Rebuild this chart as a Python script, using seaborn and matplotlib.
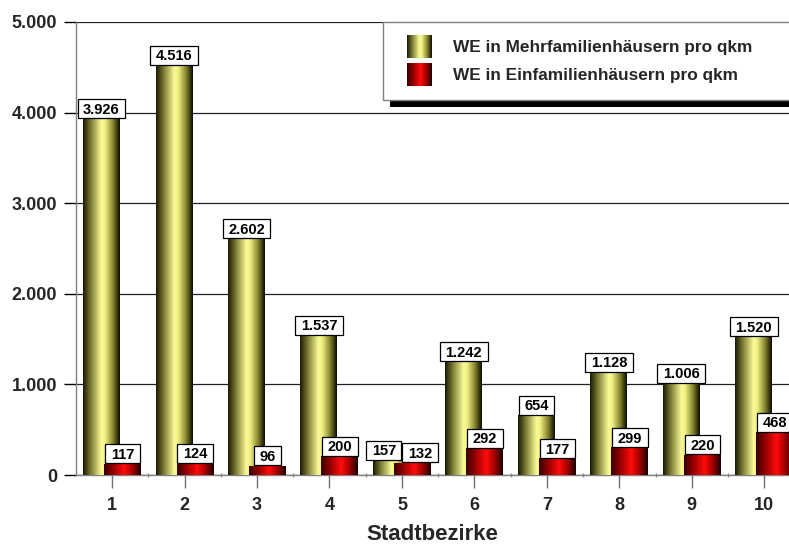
import numpy as np
import pandas as pd
import matplotlib
matplotlib.use("Agg")
import matplotlib.pyplot as plt
import seaborn as sns
from matplotlib.patches import Rectangle, Patch
from matplotlib.ticker import FuncFormatter, FixedLocator

# --- data -------------------------------------------------------------
bezirke = [1, 2, 3, 4, 5, 6, 7, 8, 9, 10]
mehrfamilien = [3926, 4516, 2602, 1537, 157, 1242, 654, 1128, 1006, 1520]
einfamilien = [117, 124, 96, 200, 132, 292, 177, 299, 220, 468]
serien = ["WE in Mehrfamilienhäusern pro qkm", "WE in Einfamilienhäusern pro qkm"]
y_ticks = [0, 1000, 2000, 3000, 4000, 5000]
x_titel = "Stadtbezirke"

# --- style ------------------------------------------------------------
sns.set_theme(style="white")
plt.rcParams["font.family"] = ["Liberation Sans", "DejaVu Sans"]

# cylinder shading: (position across bar, rgb)
stops_gelb = [(0.00, (25, 25, 5)), (0.20, (120, 120, 50)), (0.50, (250, 250, 150)),
              (0.60, (240, 240, 130)), (0.82, (130, 130, 45)), (1.00, (12, 12, 0))]
stops_rot = [(0.00, (55, 0, 0)), (0.25, (150, 0, 0)), (0.55, (255, 12, 12)),
             (0.75, (175, 0, 0)), (1.00, (30, 0, 0))]


def verlauf(stops, n=96):
    u = np.linspace(0, 1, n)
    pos = [s[0] for s in stops]
    rgb = np.array([s[1] for s in stops], dtype=float) / 255.0
    arr = np.stack([np.interp(u, pos, rgb[:, k]) for k in range(3)], axis=-1)
    return arr[np.newaxis, :, :]


grad_gelb = verlauf(stops_gelb)
grad_rot = verlauf(stops_rot)

W, H = 789, 545
fig = plt.figure(figsize=(W / 100, H / 100), dpi=100)
fig.patch.set_facecolor("white")


def px_rect(x0, y0, x1, y1):
    return [x0 / W, 1 - y1 / H, (x1 - x0) / W, (y1 - y0) / H]


ax = fig.add_axes(px_rect(76, 22, 789, 475))
ax.set_facecolor("white")

versatz = 0.145
breite = 0.51
df_m = pd.DataFrame({"pos": np.array(bezirke) - versatz, "wert": mehrfamilien})
df_e = pd.DataFrame({"pos": np.array(bezirke) + versatz, "wert": einfamilien})

sns.barplot(data=df_m, x="pos", y="wert", native_scale=True, width=breite,
            color="#e0e080", errorbar=None, ax=ax)
n_m = len(ax.patches)
sns.barplot(data=df_e, x="pos", y="wert", native_scale=True, width=breite,
            color="#d00000", errorbar=None, ax=ax)
balken_m = list(ax.patches[:n_m])
balken_e = list(ax.patches[n_m:])


def fmt(v):
    return f"{int(v):,}".replace(",", ".")


for gruppe, grad, z in ((balken_m, grad_gelb, 3), (balken_e, grad_rot, 4)):
    for p in gruppe:
        x, w, h = p.get_x(), p.get_width(), p.get_height()
        ax.imshow(grad, extent=[x, x + w, 0, h], aspect="auto",
                  interpolation="bilinear", zorder=z)
        p.set_facecolor("none")
        p.set_edgecolor("none")

ax.set_xlim(0.503, 10.34)
ax.set_ylim(0, 5000)
ax.yaxis.set_major_locator(FixedLocator(y_ticks))
ax.yaxis.set_major_formatter(FuncFormatter(lambda v, _: fmt(v)))
ax.xaxis.set_major_locator(FixedLocator(bezirke))
ax.xaxis.set_minor_locator(FixedLocator([b + 0.5 for b in [0] + bezirke]))
ax.set_xticklabels([str(b) for b in bezirke])

ax.grid(axis="y", color="#222222", lw=0.9, zorder=1)
ax.grid(axis="x", visible=False)
ax.set_axisbelow(True)
for s in ("top", "right"):
    ax.spines[s].set_visible(False)
for s in ("left", "bottom"):
    ax.spines[s].set_color("#808080")
    ax.spines[s].set_linewidth(1.0)
    ax.spines[s].set_zorder(2)

ax.tick_params(axis="y", which="major", direction="out", length=9, width=1,
               color="black", pad=4.5, labelsize=13, left=True)
ax.tick_params(axis="x", which="major", direction="out", length=9, width=1,
               color="#707070", pad=7, labelsize=13, bottom=True)
ax.tick_params(axis="x", which="minor", direction="inout", length=3, width=1,
               color="#909090", bottom=True)
for lab in ax.get_xticklabels() + ax.get_yticklabels():
    lab.set_fontweight("bold")

ax.set_xlabel(x_titel, fontsize=16, fontweight="bold", labelpad=7)
ax.set_ylabel("")

# legend box with a hard black shadow
fig.add_artist(Rectangle((390 / W, 1 - 107 / H), 420 / W, 78 / H,
                         transform=fig.transFigure, fc="black", ec="none", zorder=2))
fig.add_artist(Rectangle((383 / W, 1 - 100 / H), 420 / W, 78 / H,
                         transform=fig.transFigure, fc="white", ec="#808080",
                         lw=1.0, zorder=3))

handles = [Patch(fc="#e0e080"), Patch(fc="#d00000")]
leg = fig.legend(handles=handles, labels=serien, loc="upper left",
                 bbox_to_anchor=(407 / W, 1 - 35 / H), frameon=False,
                 borderpad=0, borderaxespad=0, handlelength=1.45,
                 handleheight=1.68, handletextpad=1.22, labelspacing=0.29,
                 prop=dict(weight="bold", size=12.4))
leg.set_zorder(5)

# --- value labels in boxed tags above each bar -------------------------
renderer = fig.canvas.get_renderer()
fig.canvas.draw()
to_data = ax.transData.inverted()
pad_x, box_h, lift = 5.5, 19.0, 1.0

tags = []  # per series: list of dicts (pixel geometry)
for gruppe, z in ((balken_m, 8), (balken_e, 9)):
    reihe = []
    for p in gruppe:
        x, w, h = p.get_x(), p.get_width(), p.get_height()
        cx, top = ax.transData.transform((x + w / 2, h))
        t = ax.text(x + w / 2, h, fmt(h), ha="center", va="baseline",
                    fontsize=10.5, fontweight="bold", color="black",
                    zorder=z + 0.5, clip_on=False)
        tw = t.get_window_extent(renderer).width
        reihe.append(dict(text=t, cx=cx, top=top, w=tw + 2 * pad_x, z=z))
    tags.append(reihe)

# push neighbouring tags apart where they would overlap
for a, b in zip(tags[0], tags[1]):
    a_right = a["cx"] + a["w"] / 2
    b_left = b["cx"] - b["w"] / 2
    overlap = a_right - b_left + 1
    if overlap > 0 and abs(a["top"] - b["top"]) < box_h:
        a["cx"] -= overlap / 2
        b["cx"] += overlap / 2

for reihe in tags:
    for g in reihe:
        y0 = g["top"] + lift
        x0 = g["cx"] - g["w"] / 2
        (dx0, dy0) = to_data.transform((x0, y0))
        (dx1, dy1) = to_data.transform((x0 + g["w"], y0 + box_h))
        ax.add_patch(Rectangle((dx0, dy0), dx1 - dx0, dy1 - dy0, fc="white",
                               ec="black", lw=0.9, zorder=g["z"], clip_on=False))
        bx, by = to_data.transform((g["cx"], y0 + (box_h - 10.2) / 2))
        g["text"].set_position((bx, by))

fig.canvas.draw()
inv = fig.transFigure.inverted()
for patch, grad in zip(leg.legend_handles, (grad_gelb, grad_rot)):
    bb = patch.get_window_extent(renderer)
    (fx0, fy0), (fx1, fy1) = inv.transform([[bb.x0, bb.y0], [bb.x1, bb.y1]])
    hax = fig.add_axes([fx0, fy0, fx1 - fx0, fy1 - fy0], zorder=6)
    hax.imshow(grad, aspect="auto", interpolation="bilinear")
    hax.set_axis_off()
    patch.set_facecolor("none")

fig.savefig("out.png", dpi=100)
